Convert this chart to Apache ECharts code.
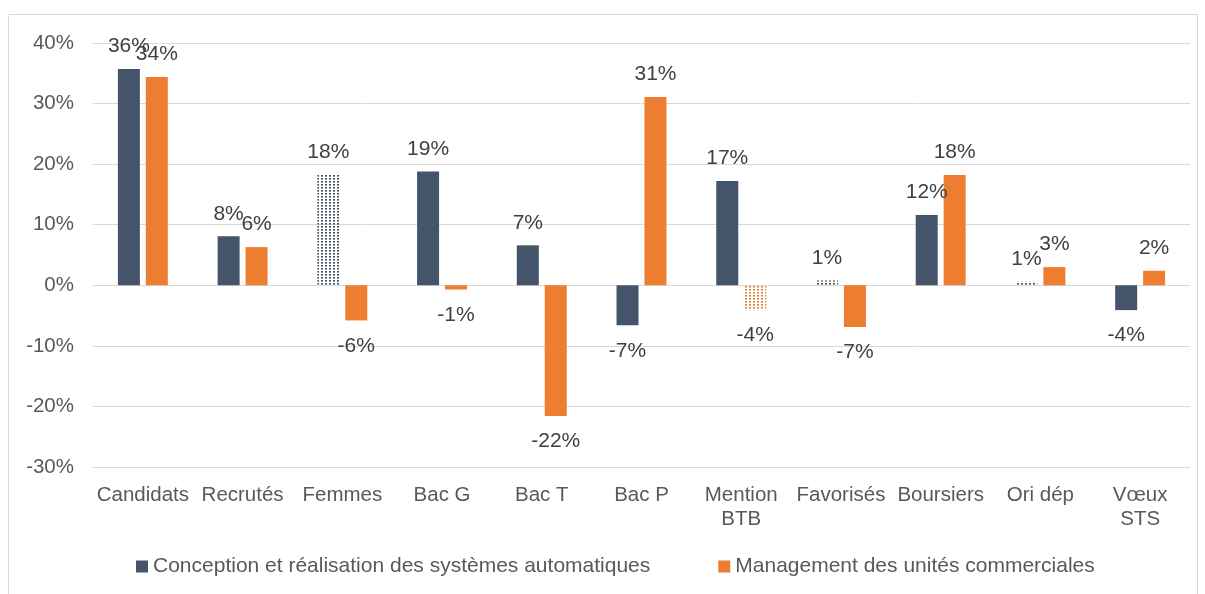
<!DOCTYPE html>
<html><head><meta charset="utf-8">
<script src="https://cdn.jsdelivr.net/npm/echarts@6/dist/echarts.min.js"></script>
<style>html,body{margin:0;padding:0;background:#fff}#c{width:1205px;height:594px}</style>
</head><body><div id="c"></div>
<script>
const categories = ['Candidats','Recrutés','Femmes','Bac G','Bac T','Bac P','Mention\nBTB','Favorisés','Boursiers','Ori dép','Vœux\nSTS'];
const seriesNames = ['Conception et réalisation des systèmes automatiques','Management des unités commerciales'];
const valuesCRSA = [35.7, 8.1, 18.3, 18.8, 6.6, -6.6, 17.2, 0.8, 11.6, 0.6, -4.1];
const valuesMUC  = [34.4, 6.3, -5.8, -0.7, -21.6, 31.1, -4.1, -6.9, 18.2, 3.0, 2.4];
const dottedCRSA = [2, 7, 9];
const dottedMUC = [6];
const yTicks = {min: -30, max: 40, interval: 10};

const DARK = '#44546a', ORANGE = '#ed7d31';
function dotPattern(color){
  const c = document.createElement('canvas'); c.width = 4; c.height = 3;
  const g = c.getContext('2d'); g.fillStyle = color; g.fillRect(1,1,2,1.6);
  return {image: c, repeat: 'repeat'};
}
const labelStyle = {show: true, fontSize: 21, color: '#404040', fontFamily: 'Liberation Sans',
  formatter: p => Math.round(p.value) + '%'};
function build(vals, color, dotted){
  return vals.map((v, i) => ({
    value: v,
    itemStyle: dotted.includes(i) ? {color: dotPattern(color)} : {color: color},
    label: {position: v >= 0 ? 'top' : 'bottom', distance: v >= 0 ? 12 : 15}
  }));
}
const chart = echarts.init(document.getElementById('c'), null, {renderer: 'canvas'});
chart.setOption({
  animation: false,
  textStyle: {fontFamily: 'Liberation Sans'},
  graphic: [{type: 'rect', shape: {x: 8.5, y: 14.5, width: 1189, height: 600}, style: {fill: 'none', stroke: '#d9d9d9', lineWidth: 1}, silent: true}],
  grid: {left: 93, right: 15, top: 43, bottom: 127},
  legend: {top: 551, left: 131, itemWidth: 12, itemHeight: 12, itemGap: 68, icon: 'rect',
    textStyle: {fontSize: 21, color: '#595959', fontFamily: 'Liberation Sans'},
    data: [{name: seriesNames[0], itemStyle: {color: DARK}}, {name: seriesNames[1], itemStyle: {color: ORANGE}}]},
  xAxis: {type: 'category', data: categories,
    axisLine: {lineStyle: {color: '#d9d9d9', width: 1}}, axisTick: {show: false},
    axisLabel: {fontSize: 20.5, color: '#595959', margin: 16, interval: 0, lineHeight: 24}},
  yAxis: {type: 'value', min: yTicks.min, max: yTicks.max, interval: yTicks.interval,
    axisLabel: {fontSize: 20.5, color: '#595959', margin: 19, formatter: v => v + '%'},
    splitLine: {lineStyle: {color: '#d9d9d9'}}, axisLine: {show: false}, axisTick: {show: false}},
  series: [
    {name: seriesNames[0], type: 'bar', barWidth: 22, barGap: '27%', data: build(valuesCRSA, DARK, dottedCRSA), label: labelStyle, itemStyle: {color: DARK}},
    {name: seriesNames[1], type: 'bar', barWidth: 22, data: build(valuesMUC, ORANGE, dottedMUC), label: labelStyle, itemStyle: {color: ORANGE}}
  ]
});
</script></body></html>
